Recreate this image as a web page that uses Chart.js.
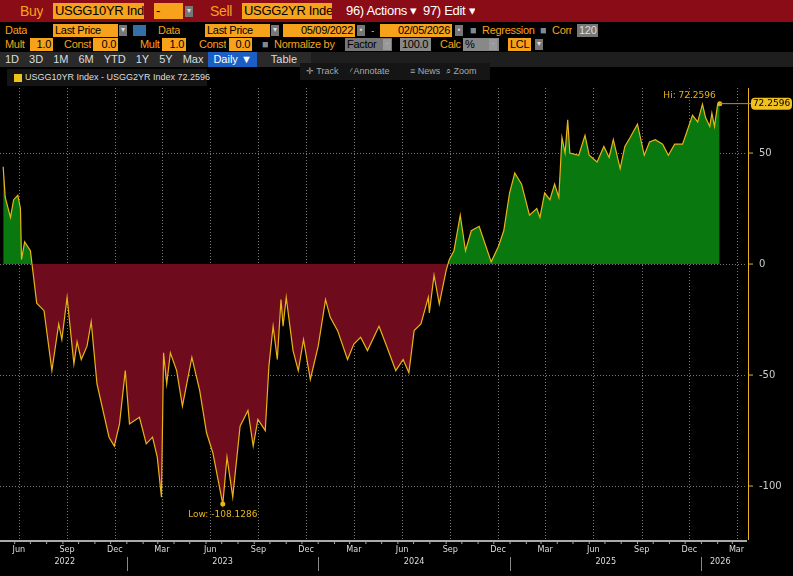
<!DOCTYPE html>
<html><head><meta charset="utf-8">
<script src="https://cdn.jsdelivr.net/npm/chart.js@4"></script>
<style>
body{margin:0;width:793px;height:576px;background:#000;overflow:hidden;font-family:"Liberation Sans",Arial,sans-serif;position:relative}
.r{position:absolute;left:0;white-space:nowrap;font-size:12px;color:#f7a21b;letter-spacing:-0.3px}
.r span{position:absolute;box-sizing:border-box;overflow:hidden}
.in{background:#f7a21b;color:#000;padding:0 2px;line-height:13px;height:13px}
.dd{background:#777;color:#ddd;width:8px;height:11px;font-size:8px;text-align:center;top:1px}
.btn{display:inline-block;background:#2a2a2a;color:#ddd;padding:0 5px;font-size:11px;line-height:15px}
#c{position:absolute;left:0;top:88px}
</style></head><body>
<div class="r" style="top:0;width:793px;height:22px;background:#8a0c16">
 <span style="left:20px;top:3px;font-size:14px">Buy</span>
 <span class="in" style="left:53px;top:3px;font-size:13px;line-height:16px;height:16px;width:91px">USGG10YR Ind</span>
 <span class="in" style="left:154px;top:3px;font-size:13px;line-height:16px;height:16px;width:29px">-</span>
 <span class="dd" style="left:185px;top:6px">▾</span>
 <span style="left:210px;top:3px;font-size:14px">Sell</span>
 <span class="in" style="left:242px;top:3px;font-size:13px;line-height:16px;height:16px;width:90px">USGG2YR Inde</span>
 <span style="left:346px;top:3px;font-size:13px;color:#fff">96) Actions ▾</span>
 <span style="left:423px;top:3px;font-size:13px;color:#fff">97) Edit ▾</span>
</div>
<div class="r" style="top:24px;font-size:11px">
 <span style="left:5px">Data</span>
 <span class="in" style="left:53px;width:65px">Last Price</span><span class="dd" style="left:119px">▾</span>
 <span style="left:133px;top:1px;width:13px;height:11px;background:#356fa8"></span>
 <span style="left:158px">Data</span>
 <span class="in" style="left:205px;width:65px">Last Price</span><span class="dd" style="left:271px">▾</span>
 <span class="in" style="left:283px;width:72px;text-align:right">05/09/2022</span><span class="dd" style="left:357px">▪</span>
 <span style="left:371px">-</span>
 <span class="in" style="left:380px;width:72px;text-align:right">02/05/2026</span><span class="dd" style="left:455px">▪</span>
 <span style="left:470px;color:#888">■</span><span style="left:482px">Regression</span>
 <span style="left:540px;color:#888">■</span><span style="left:552px">Corr</span>
 <span class="in" style="left:577px;background:#777;color:#ddd">120</span>
</div>
<div class="r" style="top:38px;font-size:11px">
 <span style="left:5px">Mult</span><span class="in" style="left:30px;width:23px;text-align:right">1.0</span>
 <span style="left:64px">Const</span><span class="in" style="left:93px;width:25px;text-align:right">0.0</span>
 <span style="left:140px">Mult</span><span class="in" style="left:162px;width:24px;text-align:right">1.0</span>
 <span style="left:199px">Const</span><span class="in" style="left:229px;width:23px;text-align:right">0.0</span>
 <span style="left:262px;color:#888">■</span><span style="left:274px">Normalize by</span>
 <span class="in" style="left:345px;background:#777;width:47px">Factor</span><span class="dd" style="left:383px;background:#999">·</span>
 <span class="in" style="left:400px;background:#888;width:31px">100.0</span>
 <span style="left:440px">Calc</span><span class="in" style="left:463px;background:#888;width:36px">%</span><span class="dd" style="left:489px;background:#999">·</span>
 <span class="in" style="left:508px;width:23px">LCL</span><span class="dd" style="left:535px">▾</span>
</div>
<div class="r" style="top:52px;width:793px;height:15px;background:#1e1e1e;letter-spacing:0">
 <div style="position:absolute;left:0;top:0"><span class="btn" style="position:static">1D</span><span class="btn" style="position:static">3D</span><span class="btn" style="position:static">1M</span><span class="btn" style="position:static">6M</span><span class="btn" style="position:static">YTD</span><span class="btn" style="position:static">1Y</span><span class="btn" style="position:static">5Y</span><span class="btn" style="position:static">Max</span><span class="btn" style="position:static;background:#1c5fc4;color:#fff">Daily ▼</span><span class="btn" style="position:static;padding:0 14px">Table</span></div>
</div>
<div class="r" style="top:69px;left:7px;height:17px;width:200px;background:#151515;color:#ddd;font-size:9px;line-height:17px;letter-spacing:0">
 <span style="left:7px;top:5px;width:8px;height:8px;background:#ecc31a"></span><span style="left:18px">USGG10YR Index - USGG2YR Index 72.2596</span></div>
<div class="r" style="top:63px;left:300px;height:17px;width:190px;background:#151515;color:#aaa;font-size:9px;line-height:17px;letter-spacing:0">
 <span style="left:6px">✛ Track</span><span style="left:50px">⁄ Annotate</span><span style="left:110px">≡ News</span><span style="left:146px">⌕ Zoom</span></div>
<canvas id="c" width="793" height="488"></canvas>
<script>
const startDate = new Date(2022,4,9);
const days = [1,5,15,21,29,34,36,42,53,56,59,65,79,94,107,113,123,136,142,150,161,169,180,203,213,223,234,242,261,274,286,295,303,307,313,320,332,343,361,376,389,401,420,428,439,453,468,478,487,501,508,516,524,531,535,541,554,564,574,587,602,616,625,639,658,670,683,696,718,731,750,764,775,785,798,812,814,823,833,846,852,861,873,883,894,909,932,946,956,967,977,990,1005,1019,1025,1034,1044,1053,1061,1067,1073,1078,1082,1099,1111,1119,1134,1147,1157,1165,1178,1187,1197,1211,1224,1234,1245,1259,1270,1282,1297,1303,1316,1326,1335,1341,1349,1353,1358,1364,1368];
const spread = [43.8,30,21,29,31,25,2,10,6,0,-5.7,-17.6,-21,-48,-27,-34,-15,-45,-35,-43,-37,-26,-54,-78,-82,-72,-48,-72,-69,-81,-78,-87,-105,-40,-54,-40,-48,-64,-42,-57,-76,-85,-108.1286,-87,-105,-73,-66,-82,-70,-75,-46,-28,-43,-16,-28,-15,-39,-48,-34,-52,-37,-16,-24,-30,-43,-36,-33,-39,-28,-36,-48,-43,-49,-30,-27,-15,-22,-5,-18,-3,2,6,22,6,15,17,1,8,15,32,41,36,22,25,21,32,29,36,30,57,50,65,50,49,58,49,46,53,48,56,43,53,57,63,49,55,56,54,49,54,54,58,67,64,72,66,62,68,62,72,72.2596];
const yTicks = [50,0,-50,-100];
const monthNames = ['Jan','Feb','Mar','Apr','May','Jun','Jul','Aug','Sep','Oct','Nov','Dec'];
const dayOf = d => Math.round((d - startDate)/86400000);
const pts = days.map((d,i)=>({x:d,y:spread[i]}));
const lowIdx = spread.indexOf(Math.min(...spread)), hiIdx = spread.length-1;
const quarterTicks=[]; const monthTicks=[]; const yearTicks=[];
for(let y=2022;y<=2026;y++)for(let m=0;m<12;m++){const d=dayOf(new Date(y,m,1)); if(d<0||d>1420)continue; monthTicks.push(d); if(m%3==2)quarterTicks.push({d:d+8,lab:monthNames[m]}); if(m==0)yearTicks.push(d); }
const deco={id:'deco',
 beforeDatasetsDraw(ch){const {ctx,chartArea:a,scales:{x,y}}=ch;ctx.save();ctx.strokeStyle='#777';ctx.lineWidth=1;ctx.setLineDash([1,2]);
  quarterTicks.forEach(t=>{const px=Math.round(x.getPixelForValue(t.d))+.5;ctx.beginPath();ctx.moveTo(px,a.top);ctx.lineTo(px,a.bottom);ctx.stroke();});
  yTicks.forEach(v=>{const py=Math.round(y.getPixelForValue(v))+.5;ctx.beginPath();ctx.moveTo(a.left,py);ctx.lineTo(a.right,py);ctx.stroke();});ctx.restore();},
 afterDraw(ch){const {ctx,chartArea:a,scales:{x,y}}=ch;ctx.save();
  ctx.strokeStyle='#aaa';ctx.lineWidth=2;ctx.beginPath();ctx.moveTo(a.left,a.bottom+1);ctx.lineTo(a.right,a.bottom+1);ctx.stroke();
  ctx.lineWidth=1;monthTicks.forEach(d=>{const px=x.getPixelForValue(d);ctx.beginPath();ctx.moveTo(px,a.bottom+1);ctx.lineTo(px,a.bottom+4);ctx.stroke();});
  ctx.fillStyle='#ddd';ctx.font='9px "DejaVu Sans Condensed","Liberation Sans",sans-serif';ctx.textAlign='center';ctx.textBaseline='top';
  quarterTicks.forEach(t=>{ctx.fillText(t.lab,x.getPixelForValue(t.d),a.bottom+5);});
  yearTicks.forEach(d=>{const px=Math.round(x.getPixelForValue(d))+.5;ctx.strokeStyle='#888';ctx.beginPath();ctx.moveTo(px,a.bottom+17);ctx.lineTo(px,a.bottom+31);ctx.stroke();});
  [2022,2023,2024,2025,2026].forEach(yr=>{const s=Math.max(dayOf(new Date(yr,0,1)),0);const e=Math.min(dayOf(new Date(yr+1,0,1)),1405);ctx.fillText(String(yr),x.getPixelForValue((s+e)/2),a.bottom+17);});
  ctx.strokeStyle='#e8b418';ctx.lineWidth=1;ctx.beginPath();ctx.moveTo(a.right+1.5,a.top);ctx.lineTo(a.right+1.5,a.bottom);ctx.stroke();
  ctx.fillStyle='#ccc';ctx.font='10px "DejaVu Sans",sans-serif';ctx.textAlign='left';ctx.textBaseline='middle';
  yTicks.forEach(v=>{const py=y.getPixelForValue(v);ctx.beginPath();ctx.moveTo(a.right+1,py);ctx.lineTo(a.right+6,py);ctx.stroke();ctx.fillText(String(v),a.right+12,py);});
  const lx=x.getPixelForValue(days[lowIdx]),ly=y.getPixelForValue(spread[lowIdx]);
  ctx.fillStyle='#e8b418';ctx.beginPath();ctx.arc(lx,ly,2.5,0,7);ctx.fill();
  ctx.font='9px "DejaVu Sans",sans-serif';ctx.textAlign='center';ctx.textBaseline='top';ctx.fillText('Low: -108.1286',lx,ly+6);
  const hx=x.getPixelForValue(days[hiIdx]),hy=y.getPixelForValue(spread[hiIdx]);
  ctx.beginPath();ctx.arc(hx,hy,2.5,0,7);ctx.fill();
  ctx.textAlign='right';ctx.textBaseline='bottom';ctx.fillText('Hi: 72.2596',hx-4,hy-3);
  ctx.strokeStyle='#c98a10';ctx.beginPath();ctx.moveTo(hx,hy);ctx.lineTo(a.right+4,hy);ctx.stroke();
  ctx.fillStyle='#f0c020';const bx=a.right+4,bw=41,bh=12;ctx.beginPath();ctx.roundRect(bx,hy-bh/2,bw,bh,4);ctx.fill();
  ctx.fillStyle='#000';ctx.textAlign='center';ctx.textBaseline='middle';ctx.fillText('72.2596',bx+bw/2,hy+.5);
  ctx.restore();}};
new Chart(document.getElementById('c'),{type:'line',
 data:{datasets:[{data:pts,borderColor:'#e8b418',borderWidth:1.2,pointRadius:0,tension:0,
   fill:{target:{value:0},above:'#08780f',below:'#6e0b1c'}}]},
 options:{responsive:false,animation:false,events:[],
  layout:{padding:{top:0,bottom:36,left:0,right:46}},
  plugins:{legend:{display:false},tooltip:{enabled:false}},
  scales:{
   x:{type:'linear',min:-5,max:1420,display:false},
   y:{min:-124.3,max:79.3,display:false}}},
 plugins:[deco]});
</script></body></html>
